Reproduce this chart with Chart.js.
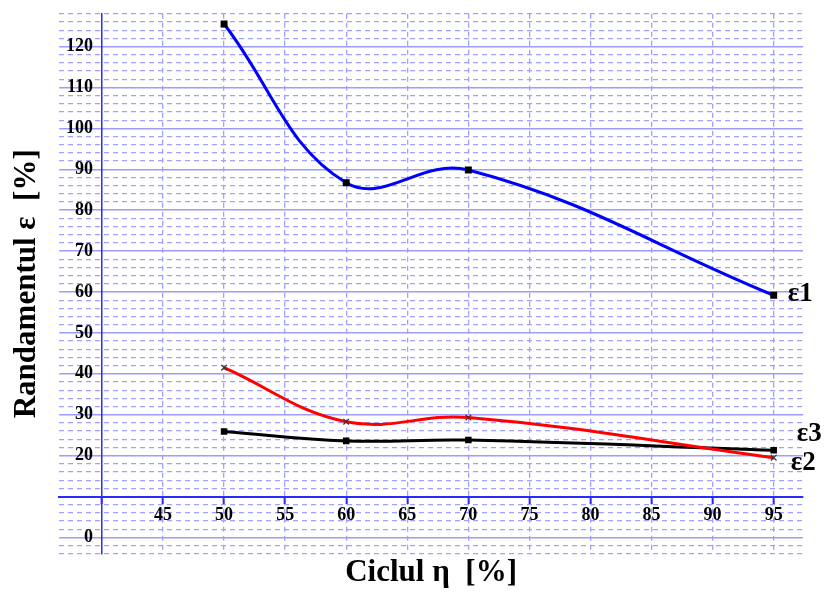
<!DOCTYPE html>
<html>
<head>
<meta charset="utf-8">
<script src="https://cdn.jsdelivr.net/npm/chart.js@4.4.1/dist/chart.umd.min.js"></script>
<style>
  html, body { margin: 0; padding: 0; background: #ffffff; }
  canvas { display: block; }
</style>
</head>
<body>
<canvas id="chart" width="827" height="592"></canvas>
<script>
// Cycle values (x) and the three efficiency series (y)
const cycle = [50, 60, 70, 95];
const eps1 = [125.5, 86.7, 89.8, 59.2];
const eps2 = [41.5, 28.3, 29.3, 19.5];
const eps3 = [25.9, 23.6, 23.8, 21.3];
const seriesNames = ['ε1', 'ε2', 'ε3'];

// Labelled ticks
const xTickLabels = [45, 50, 55, 60, 65, 70, 75, 80, 85, 90, 95];
const yTickLabels = [0, 20, 30, 40, 50, 60, 70, 80, 90, 100, 110, 120];

const xTitle = 'Ciclul η  [%]';
const yTitle = 'Randamentul ε  [%]';

const SERIF = "'Liberation Serif', 'Times New Roman', serif";
const GRID_SOLID = '#9c9cff';
const GRID_DASH = '#a0a0ff';
const AXIS_BLUE = '#2a2aff';

const toPoints = ys => cycle.map((x, i) => ({ x, y: ys[i] }));

// Curve names written beside the last point of each line
const endLabels = {
  id: 'endLabels',
  afterDatasetsDraw(chart) {
    const ctx = chart.ctx;
    const offsets = [
      { dx: 14, dy: -1 },   // ε1
      { dx: 17, dy: 5 },    // ε2
      { dx: 23, dy: -16 }   // ε3
    ];
    ctx.save();
    ctx.font = 'bold 27px ' + SERIF;
    ctx.fillStyle = '#000';
    ctx.textAlign = 'left';
    ctx.textBaseline = 'middle';
    chart.data.datasets.forEach((ds, i) => {
      const meta = chart.getDatasetMeta(i);
      const pt = meta.data[meta.data.length - 1];
      ctx.fillText(seriesNames[i], pt.x + offsets[i].dx, pt.y + offsets[i].dy);
    });
    ctx.restore();
  }
};

const lineStyle = {
  borderWidth: 3,
  tension: 0.4,
  pointBackgroundColor: '#000',
  pointBorderColor: '#000',
  fill: false
};

new Chart(document.getElementById('chart'), {
  type: 'line',
  data: {
    datasets: [
      Object.assign({}, lineStyle, {
        label: seriesNames[0], data: toPoints(eps1), borderColor: '#0000ff',
        pointStyle: 'rect', pointRadius: 2.8
      }),
      Object.assign({}, lineStyle, {
        label: seriesNames[1], data: toPoints(eps2), borderColor: '#ff0000',
        pointStyle: 'crossRot', pointRadius: 4, pointBorderWidth: 1.2, pointBorderColor: '#333'
      }),
      Object.assign({}, lineStyle, {
        label: seriesNames[2], data: toPoints(eps3), borderColor: '#000000',
        pointStyle: 'rect', pointRadius: 2.5
      })
    ]
  },
  options: {
    responsive: false,
    animation: false,
    devicePixelRatio: 1,
    layout: { padding: { left: 6, right: 24, top: 10, bottom: 0 } },
    plugins: { legend: { display: false }, tooltip: { enabled: false } },
    scales: {
      x: {
        type: 'linear',
        position: { y: 10 },
        min: 36.5, max: 97.4,
        ticks: {
          stepSize: 5, includeBounds: false, autoSkip: false, maxRotation: 0,
          color: '#000', font: { family: SERIF, size: 18, weight: 'bold' }, padding: 2,
          callback: v => xTickLabels.includes(v) ? String(v) : ''
        },
        grid: {
          color: ctx => (ctx.tick && ctx.tick.value === 40) ? 'rgba(0,0,0,0)' : GRID_DASH,
          lineWidth: 1.3,
          drawTicks: true, tickLength: 6, tickColor: AXIS_BLUE, tickWidth: 2
        },
        border: { display: true, color: AXIS_BLUE, width: 2, dash: [5, 4] }
      },
      y: {
        type: 'linear',
        position: { x: 40 },
        min: -4, max: 128,
        ticks: {
          stepSize: 10, includeBounds: false, autoSkip: false,
          color: '#000', font: { family: SERIF, size: 18, weight: 'bold' },
          callback: v => yTickLabels.includes(v) ? String(v) + '  ' : ''
        },
        grid: { color: GRID_SOLID, lineWidth: 1.5, drawTicks: false },
        border: { display: true, color: AXIS_BLUE, width: 1.5 }
      },
      yMinor: {
        type: 'linear',
        position: 'left',
        min: -4, max: 128,
        ticks: { display: false, stepSize: 2, includeBounds: false },
        grid: {
          color: ctx => (ctx.tick && Math.round(ctx.tick.value) % 10 === 0) ? 'rgba(0,0,0,0)' : GRID_DASH,
          lineWidth: 1.3,
          drawTicks: false
        },
        border: { display: false, dash: [5, 4] },
        title: {
          display: true, text: yTitle, color: '#000',
          font: { family: SERIF, size: 31, weight: 'bold' },
          padding: { top: 2, bottom: 14 }
        }
      },
      xMinor: {
        type: 'linear',
        position: 'bottom',
        min: 36.5, max: 97.4,
        ticks: { display: false },
        grid: { display: false, drawTicks: false },
        border: { display: false },
        title: {
          display: true, text: xTitle, color: '#000',
          font: { family: SERIF, size: 31, weight: 'bold' },
          padding: { top: 1, bottom: 0 }
        }
      }
    }
  },
  plugins: [endLabels]
});
</script>
</body>
</html>
